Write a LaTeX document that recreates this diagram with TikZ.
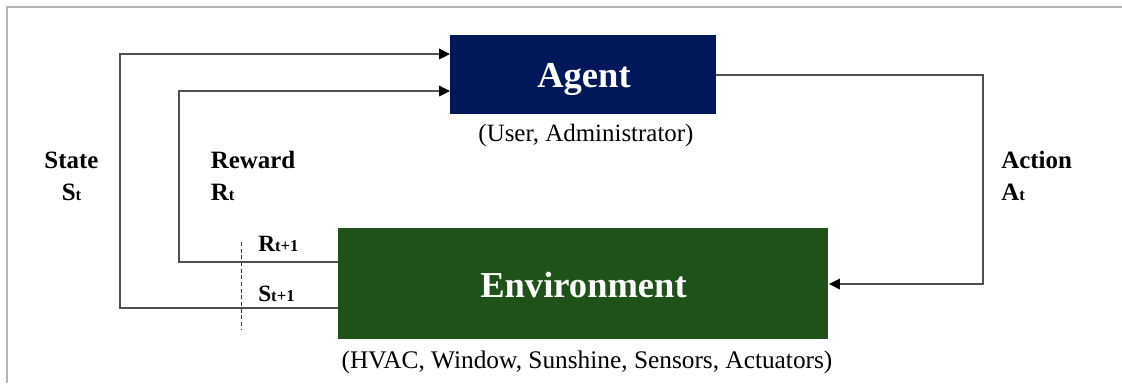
\documentclass[tikz,border=0pt]{standalone}
\usepackage{fontspec}
\setmainfont{Liberation Serif}
\usetikzlibrary{arrows.meta}
\definecolor{agentblue}{HTML}{00175A}
\definecolor{envgreen}{HTML}{1E5218}
\definecolor{framegray}{HTML}{B4B4B4}
\definecolor{linegray}{HTML}{505050}
\newcommand{\fs}[1]{\fontsize{#1}{#1}\selectfont}
\tikzset{
  x=0.75pt,y=-0.75pt,
  blockbox/.style={draw=none,inner sep=0pt,outer sep=0pt,text=white,font=\fs{27.4}\bfseries},
  captext/.style={inner sep=0pt,font=\fs{19}},
  labtext/.style={inner sep=0pt,font=\fs{18.7}\bfseries},
  smalltext/.style={inner sep=0pt,font=\fs{17.5}\bfseries},
  conn/.style={draw=linegray,line width=0.8pt},
  arrowconn/.style={conn,-{Triangle[length=8.2pt,width=8pt,color=black]}},
}
\newcommand{\subt}[2]{#1{\fs{12.5}#2}}
\begin{document}
\begin{tikzpicture}
\useasboundingbox (0,0) rectangle (1122,383);
\draw[framegray,line width=1pt] (7,383) -- (7,7) -- (1122,7);
\node[blockbox,fill=agentblue,minimum width=199.5pt,minimum height=59.25pt,anchor=north west] (agent) at (450,35) {};
\node[blockbox,anchor=base] (agentlabel) at (584,87) {Agent};
\node[blockbox,fill=envgreen,minimum width=367.5pt,minimum height=83.25pt,anchor=north west] (env) at (338,228) {};
\node[blockbox,anchor=base] (envlabel) at (583.5,297) {Environment};
\node[captext,anchor=base,font=\fs{18.7}] (agentcap) at (586,141) {(User, Administrator)};
\node[captext,anchor=base] (envcap) at (587,368) {(HVAC, Window, Sunshine, Sensors, Actuators)};
\coordinate (stateA) at (450,54);
\coordinate (rewardA) at (450,91);
\coordinate (stateE) at (338,308);
\coordinate (rewardE) at (338,262);
\coordinate (actionA) at (716,75);
\coordinate (actionE) at (829,284);
\coordinate (cutT) at (241,242);
\coordinate (cutB) at (241,330);
\draw[arrowconn] (stateE) -- (120,308) -- (120,54) -- (stateA);
\draw[arrowconn] (rewardE) -- (179,262) -- (179,91) -- (rewardA);
\draw[arrowconn] (actionA) -- (983,75) -- (983,284) -- (actionE);
\draw[black!80,line width=0.6pt,dash pattern=on 3pt off 2pt] (cutT) -- (cutB);
\node[labtext,anchor=base] (state) at (71.5,168) {State};
\node[labtext,anchor=base] (statesub) at (71.5,200) {\subt{S}{t}};
\node[labtext,anchor=base west] (reward) at (210.5,168) {Reward};
\node[labtext,anchor=base west] (rewardsub) at (210.5,200) {\subt{R}{t}};
\node[labtext,anchor=base west] (action) at (1001,168) {Action};
\node[labtext,anchor=base west] (actionsub) at (1001,200) {\subt{A}{t}};
\node[smalltext,anchor=base west] (rnext) at (258,251.5) {\subt{R}{t+1}};
\node[smalltext,anchor=base west] (snext) at (258,301) {\subt{S}{t+1}};
\end{tikzpicture}
\end{document}
